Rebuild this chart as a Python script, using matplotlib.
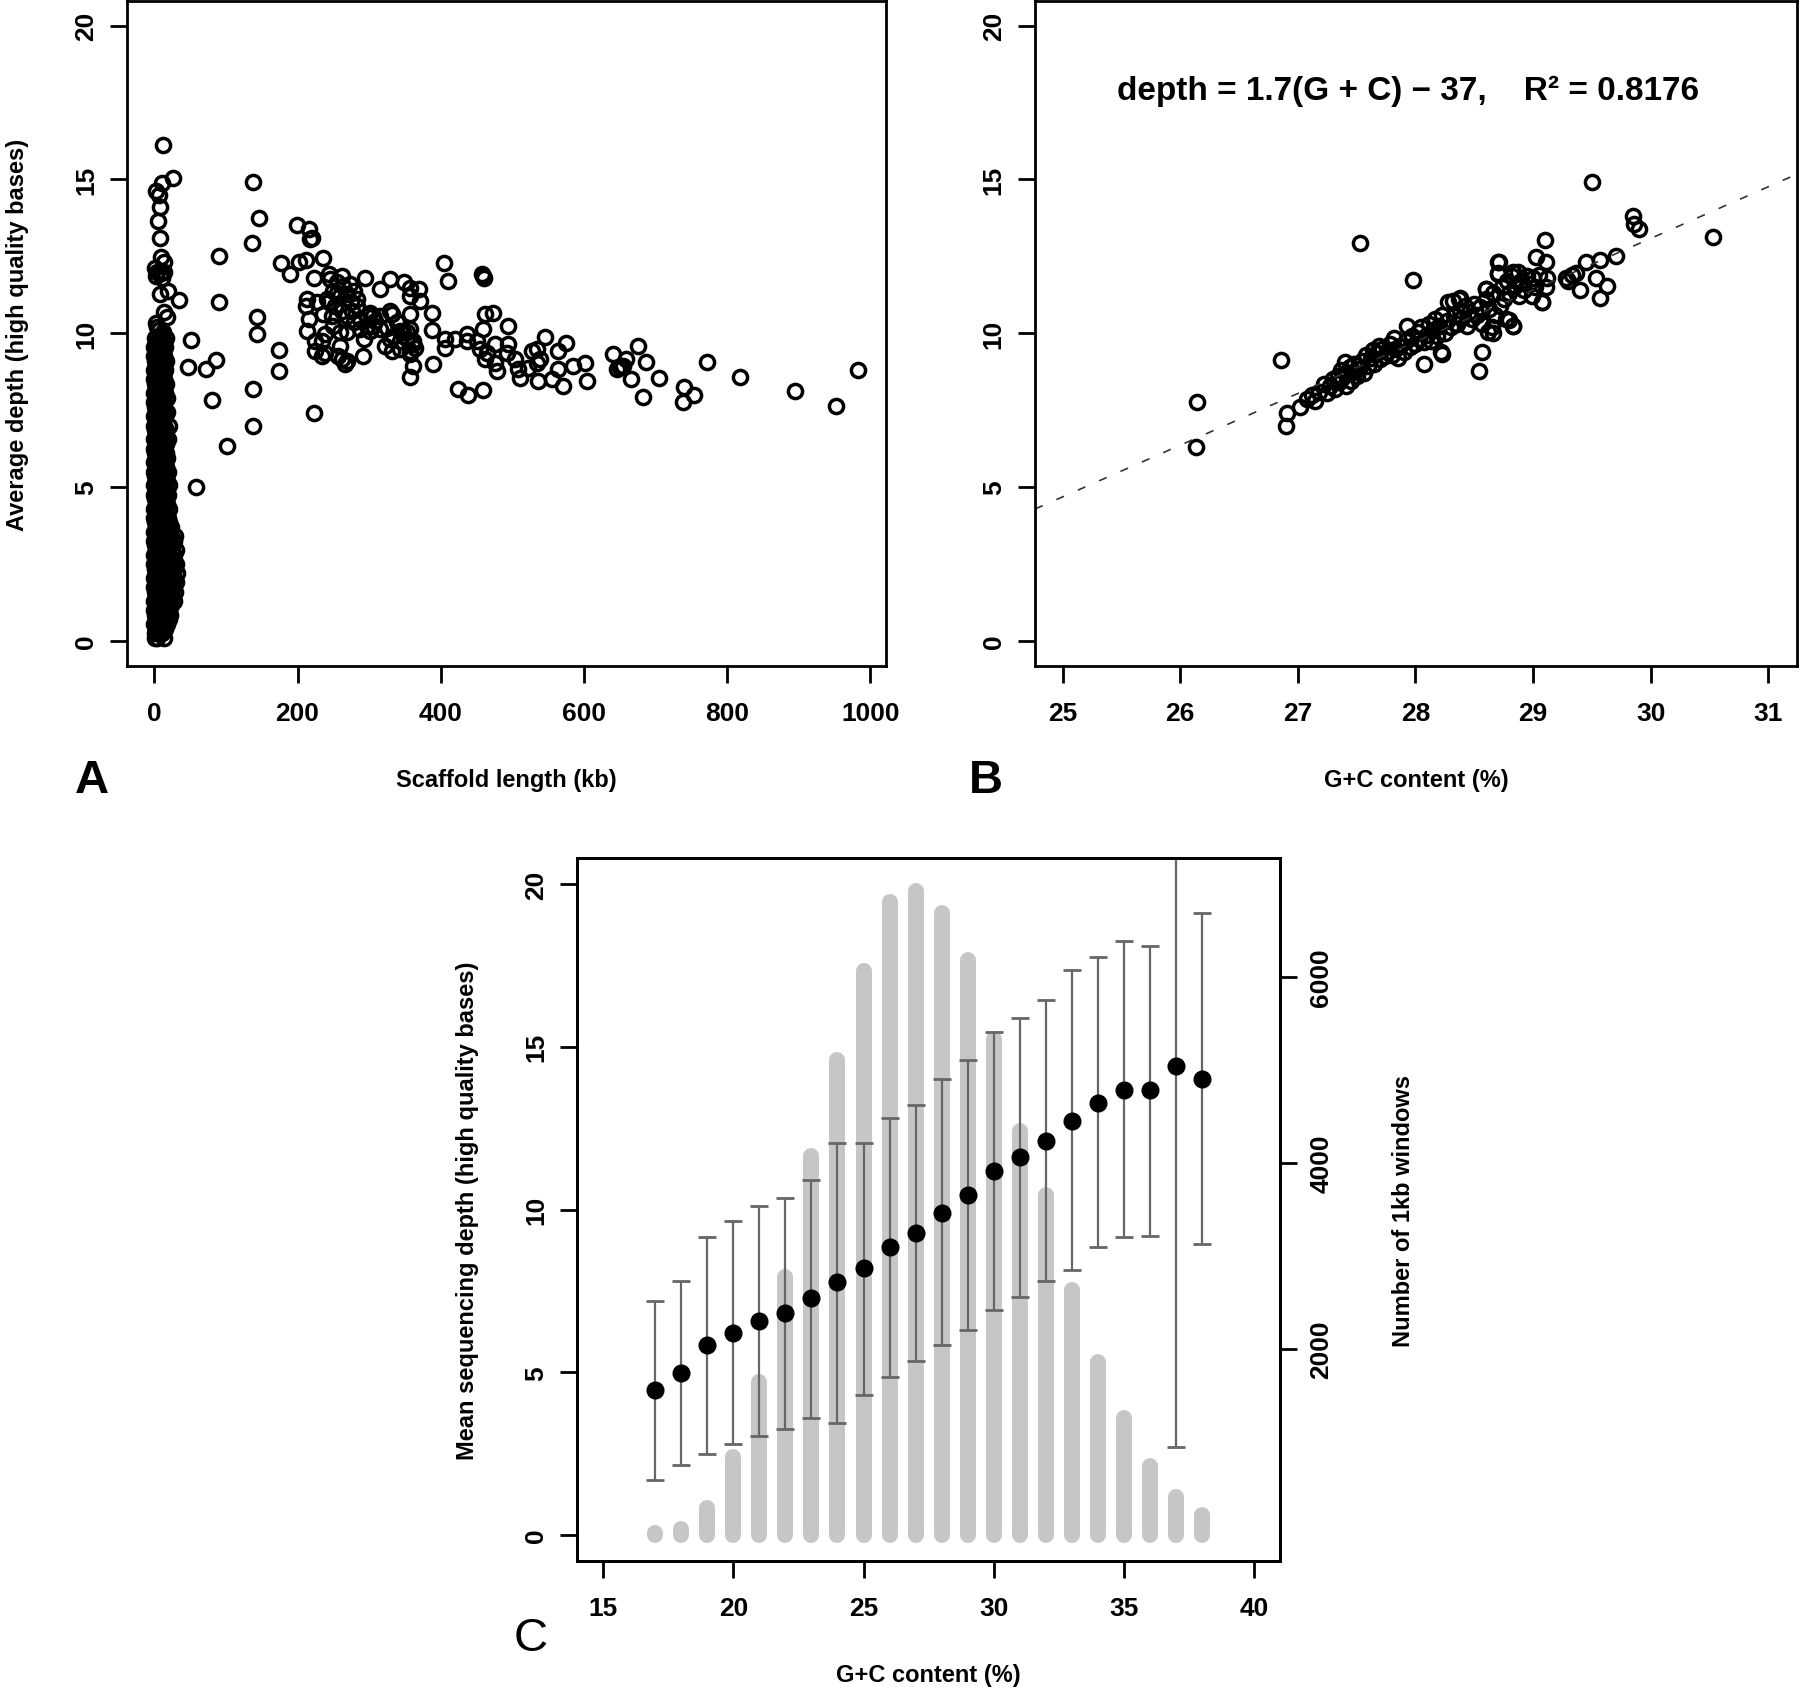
import matplotlib
matplotlib.use('Agg')
import matplotlib.pyplot as plt

plt.rcParams['font.family'] = ['Liberation Sans', 'DejaVu Sans']
plt.rcParams['font.weight'] = 'bold'
plt.rcParams['axes.labelweight'] = 'bold'

# ---- panel A: scaffold length (kb) vs average depth ----
# dense column of short scaffolds, one row per depth level
column_rows = [
    (0.1, [1, 4, 13]), (0.25, [0.5, 7, 11]), (0.4, [2, 9, 15]),
    (0.55, [0, 5, 12, 18]), (0.7, [3, 8, 14, 20]), (0.85, [1, 6, 11, 17, 22]),
    (1.0, [0, 4, 9, 15, 21]), (1.15, [2, 7, 12, 18, 24]), (1.3, [0, 5, 10, 16, 22, 27]),
    (1.45, [3, 8, 13, 19, 25]), (1.6, [1, 6, 11, 17, 23, 29]), (1.75, [0, 4, 9, 14, 20, 26]),
    (1.9, [2, 7, 12, 18, 24, 30]), (2.05, [0, 5, 10, 15, 21, 27]), (2.2, [3, 8, 13, 19, 25, 32]),
    (2.35, [1, 6, 11, 16, 22, 28]), (2.5, [0, 4, 9, 14, 20, 26, 31]), (2.65, [2, 7, 12, 18, 24]),
    (2.8, [0, 5, 10, 15, 21, 28]), (2.95, [3, 8, 13, 19, 25, 30]), (3.1, [1, 6, 11, 16, 22]),
    (3.25, [0, 4, 9, 14, 20, 27]), (3.4, [2, 7, 12, 17, 23, 29]), (3.55, [0, 5, 10, 15, 21]),
    (3.7, [3, 8, 13, 18, 24]), (3.85, [1, 6, 11, 16, 20]), (4.0, [0, 4, 9, 14, 19]),
    (4.15, [2, 7, 12, 17]), (4.3, [0, 5, 10, 15, 21]), (4.45, [3, 8, 13, 18]),
    (4.6, [1, 6, 11, 16]), (4.75, [0, 4, 9, 14, 19]), (4.9, [2, 7, 12, 17]),
    (5.05, [0, 5, 10, 15, 21]), (5.2, [3, 8, 13, 18]), (5.35, [1, 6, 11, 16]),
    (5.5, [0, 4, 9, 14, 19]), (5.65, [2, 7, 12, 17]), (5.8, [0, 5, 10, 15]),
    (5.95, [3, 8, 13, 18]), (6.1, [1, 6, 11, 16]), (6.25, [0, 4, 9, 14]),
    (6.4, [2, 7, 12, 17]), (6.55, [0, 5, 10, 15, 19]), (6.7, [3, 8, 13]),
    (6.85, [1, 6, 11, 16]), (7.0, [0, 4, 9, 14, 20]), (7.15, [2, 7, 12]),
    (7.3, [0, 5, 10, 15]), (7.45, [3, 8, 13, 18]), (7.6, [1, 6, 11]),
    (7.75, [0, 4, 9, 14]), (7.9, [2, 7, 12, 18]), (8.05, [0, 5, 10, 15]),
    (8.2, [3, 8, 13]), (8.35, [1, 6, 11, 16]), (8.5, [0, 4, 9, 14]),
    (8.65, [2, 7, 12]), (8.8, [0, 5, 10, 15]), (8.95, [3, 8, 13]),
    (9.1, [1, 6, 11, 16]), (9.25, [0, 4, 9, 14]), (9.4, [2, 7, 12]),
    (9.55, [0, 5, 10, 15]), (9.7, [3, 8, 13]), (9.85, [1, 6, 11, 17]),
]

scaffold_kb = [
    12.7, 26.8, 11.3, 1.8, 6.6, 8, 5.2, 8, 9.9, 13.6, 1, 4, 9, 14, 3, 11, 8, 19.3,
    34.9, 13.6, 17.5, 1.8, 12.7, 4, 7,
    51.4, 47.6, 72.6, 86.5, 81, 101.9, 58.9, 90, 90,
    137.7, 145.6, 136.3, 143.3, 143.3, 174, 174, 137.7, 137.7, 222.4,
    199.1, 215.4, 217.7, 219.6, 177.2, 189.8, 202.4, 212.1, 235.4, 222.4, 213, 212,
    215.4, 213, 224.7, 233.8, 238.7, 259.6, 266.6, 243.3, 261.9, 294.5, 314.5, 329.4,
    348.9, 357.3, 369, 371.2, 357.3, 387.6, 387.6, 357.3, 357.3, 361.9, 357.3, 361.9,
    356.4, 389.9, 331.7, 324.8, 322.4, 331.7, 343.3, 292.2, 291.3, 306.1, 301.5, 282.9,
    269, 259.6, 269, 250.2, 248, 235.4, 227, 241, 255, 279, 274, 296.9, 306, 329.4,
    338.7, 348, 352.6, 224.7, 238.7, 261.9, 269, 257, 234,
    245.6, 255, 264.2, 250.2, 259.6, 269, 273.5, 243.3, 252.6, 261.9, 275.7, 282.9,
    287.5, 296.9, 301.5, 308.4, 315.4, 315.4, 287.5, 278.2, 334, 343.3, 352.6, 361.9,
    364.3, 356.4, 343.3, 329.4,
    404.7, 410.8, 457.4, 459, 461, 462, 473.6, 459.6, 494.5, 406.1, 406.1, 420.1,
    436.4, 436.4, 450.4, 455, 464.3, 462, 475.9, 475.9, 478.2, 492.2, 494.5, 503.8,
    508.5, 510.8, 522.4, 527.1, 534.1, 534.1, 538.7, 536.4, 545.7, 555, 564.3, 564.3,
    571.2, 575, 585.2, 601.5, 603.8, 424.7, 438.7, 458.6,
    640.6, 646.2, 658.3, 666.4, 676, 686.4, 682.3, 704.8, 740, 738.3, 753, 772,
    818.6, 894.6, 952.4, 982.8, 650, 655,
]
scaffold_depth = [
    16.12, 15.05, 14.89, 14.61, 14.5, 14.11, 13.65, 13.1, 12.49, 12.3, 12.13, 12.0,
    11.95, 12.0, 11.85, 11.8, 11.27, 11.38, 11.09, 10.7, 10.54, 10.32, 10.04, 10.2, 10.1,
    9.77, 8.89, 8.83, 9.13, 7.84, 6.32, 5.0, 12.52, 11.03,
    14.93, 13.73, 12.93, 10.54, 9.97, 9.46, 8.77, 8.18, 7.0, 7.42,
    13.52, 13.39, 13.06, 13.1, 12.28, 11.92, 12.3, 12.39, 12.46, 11.81, 11.1, 10.89,
    10.46, 10.08, 9.43, 9.76, 9.37, 9.59, 8.99, 11.92, 11.87, 11.81, 11.43, 11.77,
    11.65, 11.48, 11.43, 11.05, 11.2, 10.65, 10.1, 10.62, 10.13, 9.64, 9.43, 8.94,
    8.58, 8.99, 10.62, 10.18, 9.59, 9.43, 10.08, 9.8, 9.26, 10.24, 10.67, 10.89,
    10.56, 10.03, 10.03, 10.24, 10.56, 10.62, 11.0, 11.1, 11.32, 11.38, 11.0, 10.56,
    10.56, 10.73, 10.35, 10.03, 9.8, 9.76, 9.97, 9.15, 9.1, 9.26, 9.26,
    11.76, 11.65, 11.54, 11.38, 11.21, 11.27, 11.6, 11.0, 10.89, 10.73, 10.73, 11.1,
    10.46, 10.24, 10.08, 10.4, 10.13, 10.56, 10.13, 10.35, 9.91, 9.75, 10.03, 9.75,
    9.53, 9.32, 9.48, 9.8,
    12.28, 11.71, 11.92, 11.85, 11.8, 10.62, 10.67, 10.13, 10.24, 9.8, 9.53, 9.8,
    9.97, 9.76, 9.76, 9.48, 9.37, 9.15, 9.64, 9.04, 8.77, 9.37, 9.64, 9.15,
    8.83, 8.56, 8.88, 9.43, 9.48, 9.04, 9.15, 8.45, 9.89, 8.5, 8.83, 9.43,
    8.28, 9.67, 8.94, 9.02, 8.45, 8.18, 7.98, 8.14,
    9.33, 8.83, 9.16, 8.5, 9.58, 9.08, 7.92, 8.55, 8.25, 7.75, 8.0, 9.05,
    8.58, 8.12, 7.62, 8.8, 8.9, 8.95,
]

# ---- panel B: G+C content vs depth, with fitted line ----
gc_pct = [
    27.02, 27.08, 27.12, 27.15, 27.18, 27.22, 27.25, 27.27, 27.3, 27.32, 27.34, 27.35,
    27.37, 27.38, 27.4, 27.41, 27.42, 27.44, 27.45, 27.47, 27.48, 27.5, 27.52, 27.55,
    27.56, 27.58, 27.6, 27.62, 27.64, 27.65, 27.67, 27.69, 27.7, 27.72, 27.74, 27.76,
    27.78, 27.8, 27.82, 27.83, 27.85, 27.87, 27.9, 27.92, 27.93, 27.95, 27.97, 28.0,
    28.02, 28.03, 28.05, 28.07, 28.1, 28.12, 28.13, 28.15, 28.17, 28.18, 28.2, 28.22,
    28.23, 28.25, 28.27, 28.28, 28.3, 28.32, 28.33, 28.35, 28.37, 28.38, 28.4, 28.42,
    28.44, 28.46, 28.48, 28.5, 28.52, 28.55, 28.57, 28.6, 28.6, 28.62, 28.63, 28.65,
    28.66, 28.68, 28.7, 28.7, 28.72, 28.74, 28.75, 28.77, 28.78, 28.8, 28.82, 28.83,
    28.85, 28.87, 28.88, 28.9, 28.92, 28.95, 28.97, 29.0, 29.02, 29.05, 29.03, 29.08,
    29.1, 29.11, 29.11, 29.12, 29.28, 29.3, 29.33, 29.37, 29.4, 29.45, 29.54, 29.57,
    29.57, 29.63, 29.71, 29.85, 29.86, 29.9, 30.53, 29.5, 27.53, 27.98, 26.146, 26.136,
    26.86, 26.9, 26.91, 28.57, 28.54, 28.07, 28.23, 28.38, 28.71, 28.7, 28.83, 28.66,
    28.6, 28.8, 28.83, 28.99, 29.08,
]
gc_depth = [
    7.6, 7.85, 8.0, 7.8, 8.1, 8.35, 8.05, 8.3, 8.5, 8.2, 8.6, 8.4,
    8.8, 8.55, 9.05, 8.3, 8.7, 8.9, 8.45, 8.75, 9.0, 8.6, 8.85, 9.1,
    8.7, 9.3, 8.95, 9.2, 9.45, 9.0, 9.35, 9.6, 9.15, 9.5, 9.25, 9.4,
    9.65, 9.3, 9.85, 9.5, 9.2, 9.6, 9.4, 9.75, 10.25, 9.55, 9.9, 9.65,
    10.05, 9.8, 10.2, 9.7, 9.95, 10.3, 9.75, 10.1, 10.45, 9.9, 10.25, 9.4,
    10.6, 10.0, 10.4, 11.0, 10.2, 11.05, 10.55, 10.3, 11.1, 10.75, 10.5, 10.9,
    10.25, 10.7, 10.45, 10.95, 10.6, 10.85, 10.3, 11.1, 11.45, 10.05, 10.8, 10.2,
    11.3, 10.6, 11.95, 12.3, 10.9, 11.5, 11.1, 10.45, 11.7, 11.3, 11.85, 10.25,
    11.55, 12.0, 11.2, 11.7, 11.4, 11.85, 11.6, 11.8, 11.5, 11.9, 12.47, 11.02,
    13.04, 12.3, 11.49, 11.8, 11.81, 11.7, 11.9, 11.95, 11.41, 12.3, 11.81, 12.39,
    11.16, 11.52, 12.52, 13.8, 13.55, 13.39, 13.12, 14.93, 12.93, 11.73, 7.78, 6.29,
    9.13, 7.0, 7.42, 9.39, 8.77, 8.99, 9.32, 11.13, 12.3, 11.92, 11.98, 10.02,
    11.43, 10.44, 10.24, 11.21, 11.02,
]
fit_slope = 1.68
fit_intercept = -37.32
fit_label = 'depth = 1.7(G + C) \u2212 37,    R\u00b2 = 0.8176'

# ---- panel C: 1kb windows binned by G+C ----
gc_bins = [17, 18, 19, 20, 21, 22, 23, 24, 25, 26, 27, 28, 29, 30, 31, 32, 33, 34,
           35, 36, 37, 38]
mean_depth = [4.45, 4.97, 5.84, 6.2, 6.57, 6.82, 7.27, 7.77, 8.2, 8.84, 9.28, 9.9,
              10.44, 11.19, 11.62, 12.12, 12.72, 13.26, 13.67, 13.66, 14.4, 14.02]
depth_low = [1.7, 2.15, 2.5, 2.8, 3.05, 3.25, 3.6, 3.45, 4.3, 4.85, 5.35, 5.85,
             6.3, 6.9, 7.3, 7.8, 8.15, 8.85, 9.15, 9.2, 2.7, 8.95]
depth_high = [7.2, 7.8, 9.15, 9.65, 10.1, 10.35, 10.9, 12.05, 12.05, 12.8, 13.2, 14.0,
              14.6, 15.45, 15.9, 16.45, 17.35, 17.75, 18.25, 18.1, 26.0, 19.1]
window_counts = [20, 70, 290, 840, 1650, 2780, 4080, 5110, 6060, 6810, 6930, 6690,
                 6180, 5330, 4350, 3660, 2640, 1860, 1260, 740, 410, 220]

FS = 17
TICK_FS = 19
LW = 2.0


def style(ax):
    for s in ax.spines.values():
        s.set_linewidth(LW)
    ax.tick_params(direction='out', length=12, width=LW, labelsize=TICK_FS)
    ax.tick_params(axis='x', pad=13)
    ax.tick_params(axis='y', pad=9, labelrotation=90)
    for lab in ax.get_yticklabels():
        lab.set_va('center')


fig = plt.figure(figsize=(18, 16.9), dpi=100)

# panel A
axA = fig.add_axes([0.0706, 0.6053, 0.4217, 0.3935])
xs, ys = [], []
for d, kbs in column_rows:
    for k in kbs:
        xs.append(k)
        ys.append(d)
axA.plot(xs + scaffold_kb, ys + scaffold_depth, 'o', ms=10.2, mfc='none',
         mec='black', mew=2.5)
axA.set_xlim(-38, 1022)
axA.set_ylim(-0.82, 20.8)
axA.set_xticks([0, 200, 400, 600, 800, 1000])
axA.set_yticks([0, 5, 10, 15, 20])
style(axA)
axA.set_xlabel('Scaffold length (kb)', fontsize=FS, va='center')
axA.xaxis.set_label_coords(0.5, -0.171)
axA.set_ylabel('Average depth (high quality bases)', fontsize=FS, va='center')
axA.yaxis.set_label_coords(-0.145, 0.5)

# panel B
axB = fig.add_axes([0.575, 0.6053, 0.4233, 0.3935])
axB.plot(gc_pct, gc_depth, 'o', ms=10.2, mfc='none', mec='black', mew=2.5)
axB.axline((0, fit_intercept), slope=fit_slope, color='#333333', lw=1.2,
           dashes=(5, 9))
axB.set_xlim(24.765, 31.245)
axB.set_ylim(-0.82, 20.8)
axB.set_xticks([25, 26, 27, 28, 29, 30, 31])
axB.set_yticks([0, 5, 10, 15, 20])
style(axB)
axB.set_xlabel('G+C content (%)', fontsize=FS, va='center')
axB.xaxis.set_label_coords(0.5, -0.171)
axB.text(0.4895, 0.865, fit_label, transform=axB.transAxes, ha='center',
         va='center', fontsize=24)

# panel C
axC = fig.add_axes([0.3206, 0.0757, 0.3906, 0.416])
axC2 = axC.twinx()
axC2.set_zorder(axC.get_zorder() - 1)
axC.patch.set_visible(False)
bars = axC2.vlines(gc_bins, 0, window_counts, color='#c6c6c6', lw=11.5)
bars.set_capstyle('round')
axC2.set_ylim(-280, 7280)
axC2.set_yticks([2000, 4000, 6000])
axC.errorbar(gc_bins, mean_depth,
             yerr=[[m - lo for m, lo in zip(mean_depth, depth_low)],
                   [hi - m for m, hi in zip(mean_depth, depth_high)]],
             fmt='none', ecolor='#666666', elinewidth=1.6, capsize=6.5,
             capthick=2.0)
axC.plot(gc_bins, mean_depth, 'o', color='black', ms=12)
axC.set_xlim(14, 41)
axC.set_ylim(-0.8, 20.8)
axC.set_xticks([15, 20, 25, 30, 35, 40])
axC.set_yticks([0, 5, 10, 15, 20])
style(axC)
style(axC2)
for lab in axC2.get_yticklabels():
    lab.set_va('center')
axC.set_xlabel('G+C content (%)', fontsize=FS, va='center')
axC.xaxis.set_label_coords(0.5, -0.162)
axC.set_ylabel('Mean sequencing depth (high quality bases)', fontsize=FS,
               va='center')
axC.yaxis.set_label_coords(-0.1565, 0.5)
axC2.set_ylabel('Number of 1kb windows', fontsize=FS, va='center',
                rotation=90)
axC2.yaxis.set_label_coords(1.175, 0.5)

# panel letters
fig.text(92 / 1800, 1 - 781 / 1690, 'A', fontsize=34, fontweight='bold',
         ha='center', va='center')
fig.text(986 / 1800, 1 - 781 / 1690, 'B', fontsize=34, fontweight='bold',
         ha='center', va='center')
fig.text(531 / 1800, 1 - 1639 / 1690, 'C', fontsize=34, fontweight='normal',
         ha='center', va='center')

fig.savefig('out.png', dpi=100)
